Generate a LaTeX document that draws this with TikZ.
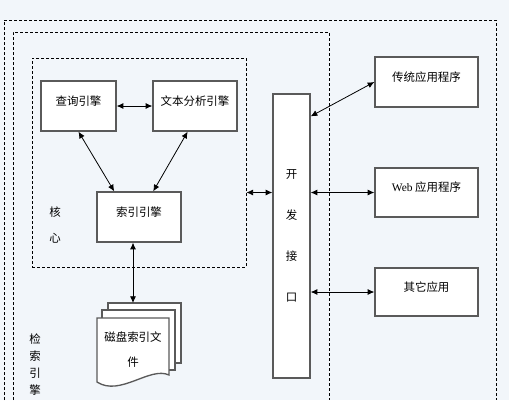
\documentclass[tikz,border=0pt]{standalone}
\usepackage{fontspec}
\setmainfont{Noto Sans CJK SC}
\newfontfamily\latfont{Liberation Serif}
\usetikzlibrary{arrows.meta}
\definecolor{sfondo}{HTML}{F2F6FA}
\definecolor{bordo}{HTML}{5A5A5A}
\tikzset{
  engine/.style={draw=bordo, line width=1pt, fill=white, inner sep=0pt, text height=7pt, text depth=8pt},
  vbox/.style={draw=bordo, line width=1pt, fill=white, inner sep=0pt, align=center},
  dashbox/.style={draw=black, line width=0.7pt, dash pattern=on 2.25pt off 1.5pt},
  sheet/.style={draw=bordo, fill=white, line width=1pt},
  link/.style={<->, line width=0.6pt},
}
\begin{document}
\begin{tikzpicture}[x=0.75pt,y=-0.75pt,>={Latex[length=5pt,width=4.5pt]},font=\fontsize{8.6}{10}\selectfont]
  % sfondo
  \fill[sfondo] (0,0) rectangle (509,400);
  \clip (0,0) rectangle (509,400);

  % riquadri tratteggiati
  \draw[dashbox] (4,400) -- (4,20) -- (496,20) -- (496,400);
  \draw[dashbox] (13,400) -- (13,32) -- (329,32) -- (329,400);
  \node[dashbox, inner sep=0pt, minimum width=160.5pt, minimum height=156.75pt] (core) at (139,162.5) {};
  \node[align=center] (corelbl) at (55,225) {核\\[9.5pt]心};
  \node[align=center, anchor=north, inner sep=0pt] (retrlbl) at (35,334) {检\\[2.75pt]索\\[2.75pt]引\\[2.75pt]擎};

  % motori
  \node[engine, minimum width=56.25pt, minimum height=37.5pt] (query) at (78.5,106) {查询引擎};
  \node[engine, minimum width=63pt, minimum height=37.5pt] (text) at (195,106) {文本分析引擎};
  \node[engine, minimum width=63pt, minimum height=37.5pt] (index) at (139,217) {索引引擎};

  % file su disco
  \filldraw[sheet] (108,303) rectangle (181,363);
  \filldraw[sheet] (102,310) rectangle (175,370);
  \filldraw[sheet] (97,382) -- (97,318) -- (169,318) -- (169,375) .. controls (150,366) and (120,397) .. cycle;
  \coordinate (disktop) at (133,303);
  \node[align=center] (disk) at (133,349.5) {磁盘索引文\\[8.75pt]件};

  % interfaccia e applicazioni
  \node[vbox, minimum width=27.75pt, minimum height=213pt] (api) at (291.5,236) {开\\[20.75pt]发\\[20.75pt]接\\[20.75pt]口};
  \node[engine, minimum width=77.25pt, minimum height=37.5pt] (trad) at (426.5,82) {传统应用程序};
  \node[engine, minimum width=77.25pt, minimum height=36.75pt] (web) at (426.5,192.5) {{\latfont Web} 应用程序};
  \node[engine, minimum width=77.25pt, minimum height=36pt] (other) at (426.5,292) {其它应用};

  % collegamenti
  \draw[link] (query.east) -- (text.west);
  \draw[link] (query.south) -- (index.134);
  \draw[link] (text.254) -- (index.61);
  \draw[link] (index.south -| disktop) -- (disktop);
  \draw[link] (core.east |- web.west) -- (api.west |- web.west);
  \draw[link] ([yshift=-17.25pt]api.north east) -- (trad.west);
  \draw[link] (api.east |- web.west) -- (web.west);
  \draw[link] (api.east |- other.west) -- (other.west);
\end{tikzpicture}
\end{document}
